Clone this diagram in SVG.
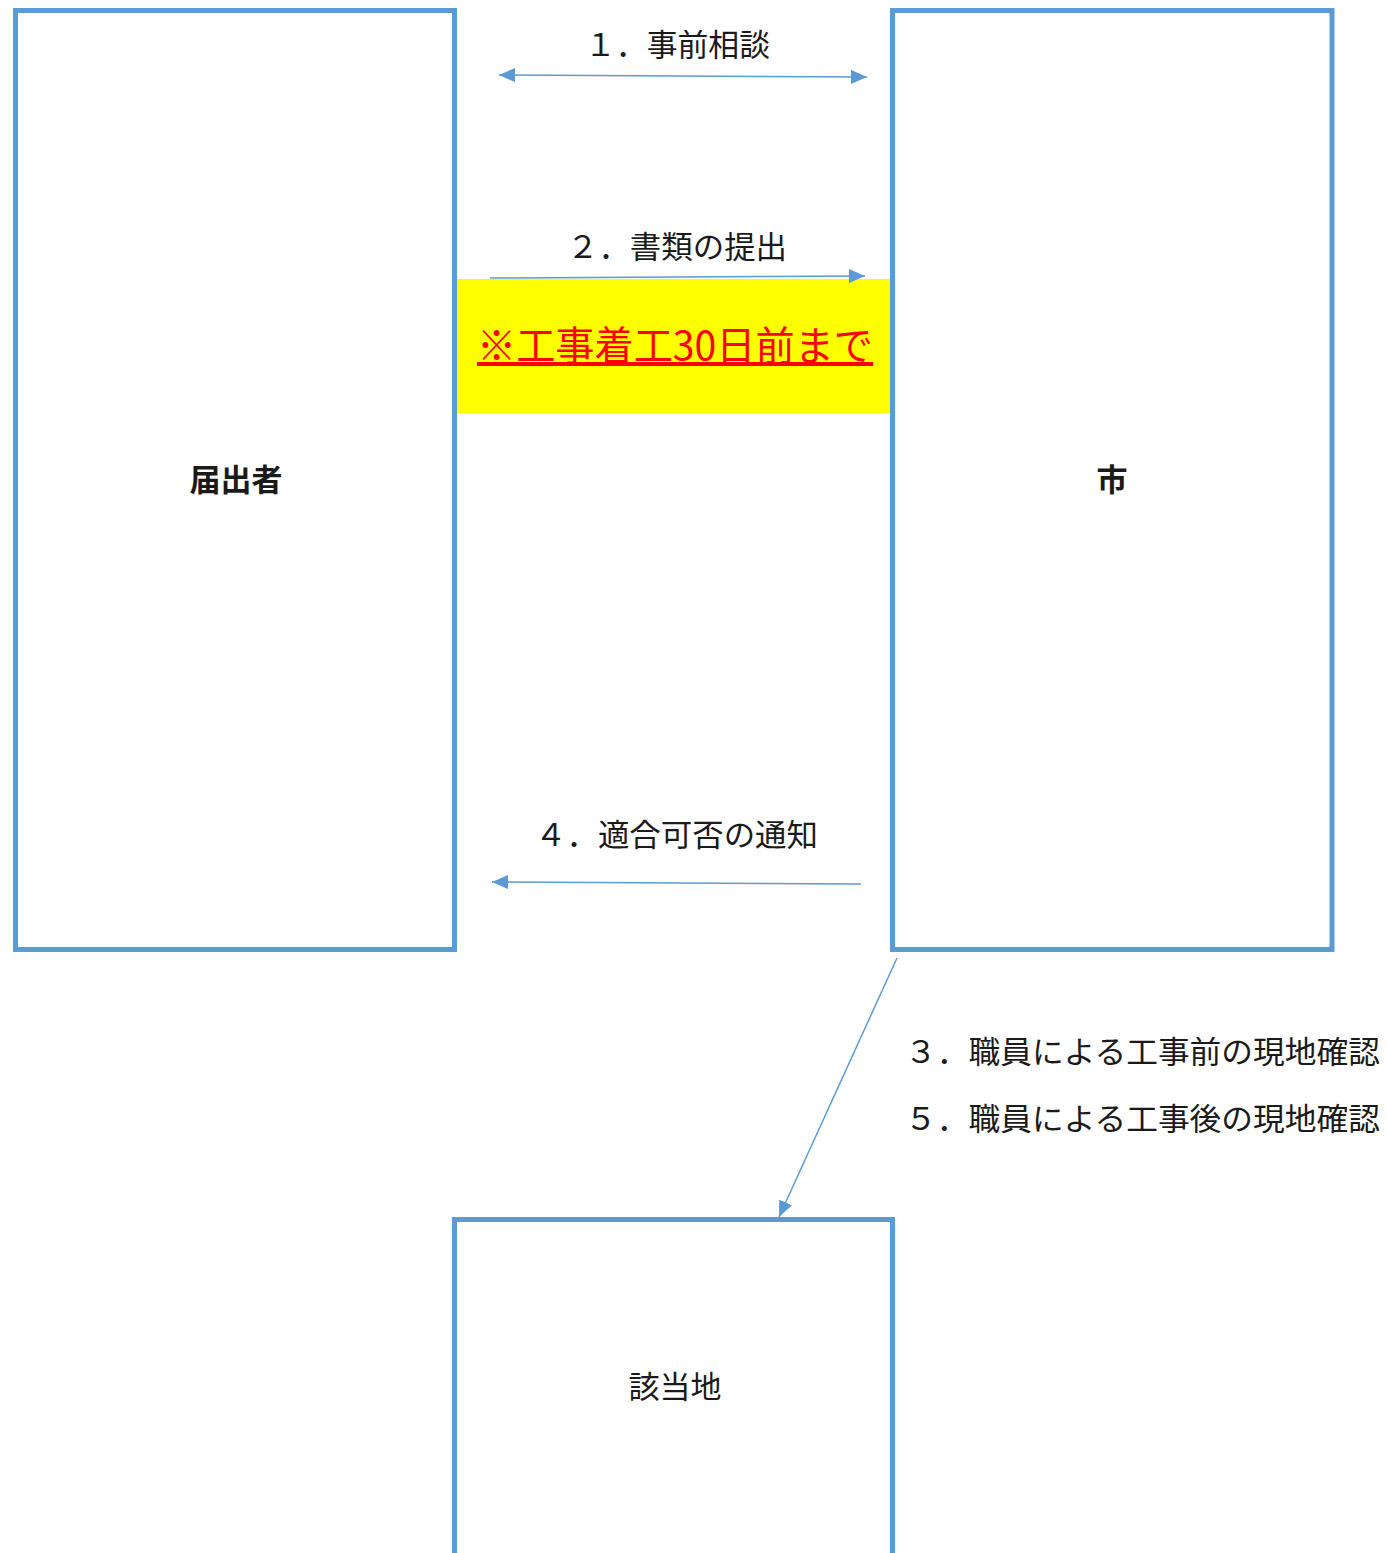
<svg xmlns="http://www.w3.org/2000/svg" width="1387" height="1553" viewBox="0 0 1387 1553">
<style>
.box{fill:#fff;stroke:#5B9BD5;stroke-width:5}
.lbl{font-family:"Noto Sans CJK JP","Noto Sans",sans-serif;font-size:31px;fill:#1a1a1a}
.conn{stroke:#5B9BD5;stroke-width:1.5;fill:none}
</style>
<defs>
<marker id="ah" markerUnits="userSpaceOnUse" markerWidth="18" markerHeight="14" refX="16" refY="7" orient="auto-start-reverse">
<path d="M0,0 L16,7 L0,14 Z" fill="#5B9BD5"/>
</marker>
</defs>
<rect width="1387" height="1553" fill="#fff"/>
<g id="node-todokede">
<rect class="box" x="15.5" y="10.5" width="439" height="939"/>
<text class="lbl" x="236" y="491" text-anchor="middle" font-weight="700" font-size="32">届出者</text>
</g>
<g id="node-shi">
<rect class="box" x="892.5" y="10.5" width="439.5" height="939"/>
<text class="lbl" x="1112" y="491" text-anchor="middle" font-weight="700" font-size="32">市</text>
</g>
<g id="node-gaitouchi">
<rect class="box" x="454.5" y="1219.5" width="438" height="360"/>
<text class="lbl" x="675" y="1398" text-anchor="middle" font-size="32">該当地</text>
</g>
<g id="note">
<rect x="457" y="279" width="433" height="134" fill="#FFFF00"/>
<text x="675" y="360" text-anchor="middle" font-family="'Noto Sans CJK JP','Noto Sans',sans-serif" font-size="40" fill="#FF0000" text-decoration="underline" textLength="396" lengthAdjust="spacingAndGlyphs">※工事着工30日前まで</text>
</g>
<g id="connectors">
<line class="conn" x1="499" y1="75" x2="867" y2="77" marker-start="url(#ah)" marker-end="url(#ah)"/>
<line class="conn" x1="490" y1="278" x2="865" y2="276" marker-end="url(#ah)"/>
<line class="conn" x1="861" y1="884" x2="492" y2="882" marker-end="url(#ah)"/>
<line class="conn" x1="897" y1="958" x2="779" y2="1217" marker-end="url(#ah)"/>
</g>
<g id="labels">
<text class="lbl" x="585" y="56" textLength="185" lengthAdjust="spacingAndGlyphs">１．事前相談</text>
<text class="lbl" x="567" y="258" textLength="220" lengthAdjust="spacingAndGlyphs">２．書類の提出</text>
<text class="lbl" x="535" y="846" textLength="283" lengthAdjust="spacingAndGlyphs">４．適合可否の通知</text>
<text class="lbl" x="905" y="1063" textLength="475" lengthAdjust="spacingAndGlyphs">３．職員による工事前の現地確認</text>
<text class="lbl" x="905" y="1130" textLength="475" lengthAdjust="spacingAndGlyphs">５．職員による工事後の現地確認</text>
</g>
</svg>
